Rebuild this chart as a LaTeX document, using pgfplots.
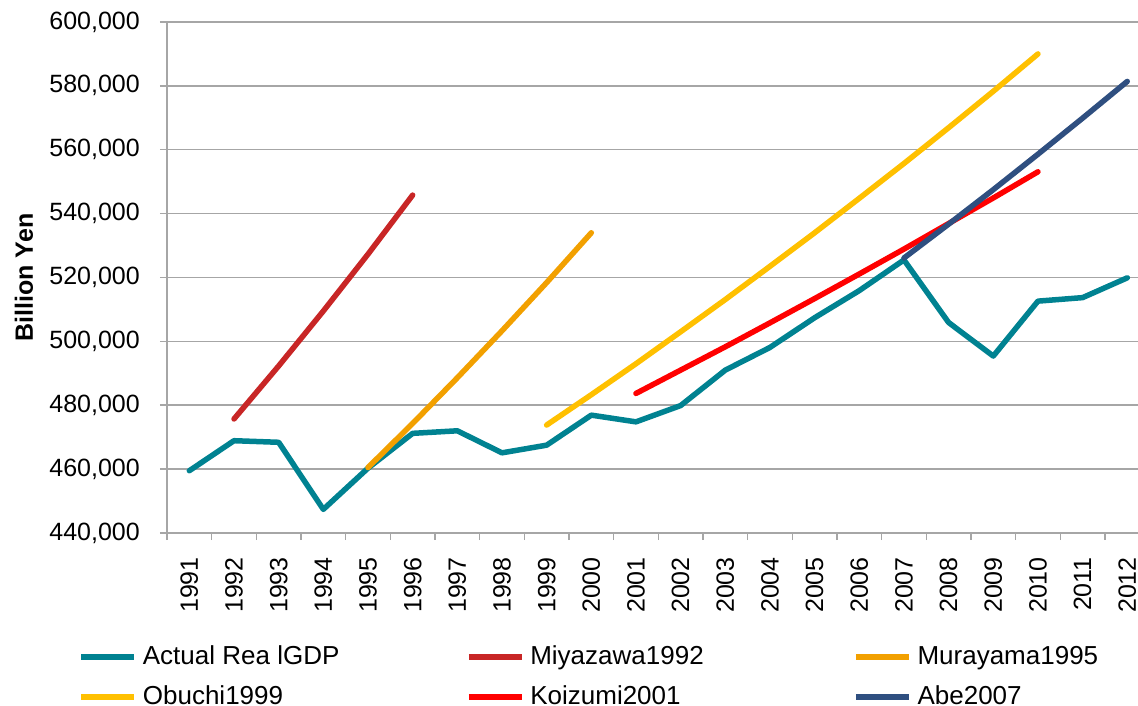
\documentclass[border=0pt]{standalone}
\usepackage{fontspec}
\setmainfont{Liberation Sans}
\usepackage{pgfplots}
\pgfplotsset{compat=1.18}

\definecolor{actualc}{RGB}{0,130,145}
\definecolor{miyac}{RGB}{200,38,38}
\definecolor{murac}{RGB}{242,160,0}
\definecolor{obuc}{RGB}{255,192,0}
\definecolor{koic}{RGB}{255,0,0}
\definecolor{abec}{RGB}{47,79,128}
\definecolor{gridc}{RGB}{166,166,166}

\begin{document}
\begin{tikzpicture}[font=\fontsize{25}{30}\selectfont]
\begin{axis}[
    scale only axis,
    width=971pt, height=511pt,
    xmin=-0.5, xmax=21.24,
    ymin=440000, ymax=600000,
    ytick={440000,460000,...,600000},
    xtick={0,...,21},
    xticklabels={1991,1992,1993,1994,1995,1996,1997,1998,1999,2000,2001,2002,2003,2004,2005,2006,2007,2008,2009,2010,2011,2012},
    minor xtick={-0.5,0.5,...,21.5},
    major x tick style={draw=none},
    minor x tick style={draw=gridc, line width=1.5pt},
    ytick style={draw=gridc, line width=1.5pt},
    tick align=outside,
    major tick length=7pt, minor tick length=7pt,
    axis x line*=bottom, axis y line*=left,
    axis line style={draw=gridc, line width=1.5pt, -},
    ymajorgrids,
    grid style={draw=gridc, line width=1.5pt},
    scaled y ticks=false,
    yticklabel={\pgfmathprintnumber[fixed, precision=0, 1000 sep={,}, assume math mode=true]{\tick}},
    yticklabel style={inner sep=0pt, xshift=-20pt, anchor=east, font=\fontsize{25}{30}\selectfont},
    xticklabel style={rotate=90, anchor=east, inner sep=0pt, font=\fontsize{25}{30}\selectfont},
    xticklabel shift=17pt,
    ylabel={Billion Yen},
    every axis y label/.style={at={(axis description cs:-0.1473,0.5)}, rotate=90, anchor=center, font=\bfseries\fontsize{25}{30}\selectfont},
    legend columns=3,
    legend cell align=left,
    legend style={draw=none, fill=none, inner sep=0pt,
        at={(axis description cs:-0.09125,-0.2162)}, anchor=north west,
        row sep=13pt,
        nodes={inner sep=1pt, text height=20pt, text depth=5pt, font=\fontsize{26}{30}\selectfont},
        /tikz/every odd column/.style={column sep=4.8pt},
        /tikz/column 2/.style={column sep=125.6pt},
        /tikz/column 4/.style={column sep=148.5pt}},
    legend image code/.code={\draw[#1, line width=5.5pt, line cap=butt] (0pt,0pt) -- (53pt,0pt);},
    every axis plot/.append style={line width=5.5pt, line cap=round, line join=round},
]
\addplot[actualc] coordinates {
 (0,459500) (1,468900) (2,468400) (3,447400) (4,460300) (5,471200) (6,472000) (7,465100)
 (8,467500) (9,476900) (10,474800) (11,479900) (12,491000) (13,498100) (14,507400)
 (15,515900) (16,525500) (17,505900) (18,495400) (19,512600) (20,513700) (21,519900)};
\addlegendentry{Actual Rea lGDP}
\addplot[miyac] coordinates {(1,475700) (2,492300) (3,509500) (4,527300) (5,545800)};
\addlegendentry{Miyazawa1992}
\addplot[murac] coordinates {(4,460500) (5,474300) (6,488600) (7,503300) (8,518400) (9,534000)};
\addlegendentry{Murayama1995}
\addplot[obuc] coordinates {(8,473800) (9,483300) (10,493000) (11,503000) (12,513100) (13,523500)
 (14,534000) (15,544800) (16,555700) (17,566900) (18,578300) (19,590000)};
\addlegendentry{Obuchi1999}
\addplot[koic] coordinates {(10,483700) (11,491000) (12,498300) (13,505800) (14,513400) (15,521100)
 (16,528900) (17,536900) (18,544900) (19,553100)};
\addlegendentry{Koizumi2001}
\addplot[abec] coordinates {(16,526100) (17,536700) (18,547500) (19,558600) (20,569900) (21,581400)};
\addlegendentry{Abe2007}
\end{axis}
\pgfresetboundingbox
\useasboundingbox (-167pt,-173pt) rectangle (971pt,533pt);
\end{tikzpicture}
\end{document}
